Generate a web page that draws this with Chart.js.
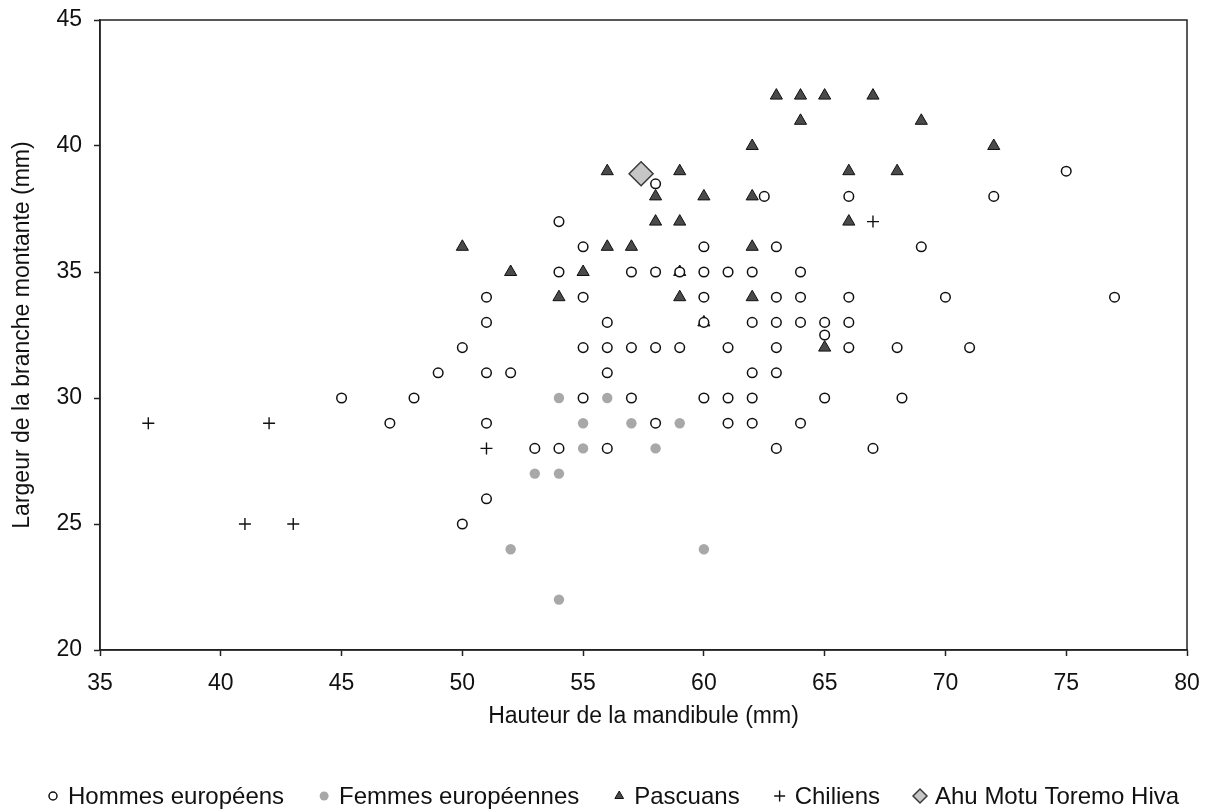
<!DOCTYPE html>
<html lang="fr">
<head>
<meta charset="UTF-8">
<title>Mandibule</title>
<script src="https://cdn.jsdelivr.net/npm/chart.js"></script>
<style>
    body { margin: 0; background: #fff; }
    canvas { display: block; }
</style>
</head>
<body>
<canvas id="graphCanvas" width="1208" height="809"></canvas>
<script>
    // [hauteur, largeur] in mm
    const hommes = [
        [75, 39], [58, 38.5], [62.5, 38], [66, 38], [72, 38], [54, 37],
        [55, 36], [60, 36], [63, 36], [69, 36],
        [54, 35], [57, 35], [58, 35], [59, 35], [60, 35], [61, 35], [62, 35], [64, 35],
        [51, 34], [55, 34], [60, 34], [63, 34], [64, 34], [66, 34], [70, 34], [77, 34],
        [51, 33], [56, 33], [60, 33], [62, 33], [63, 33], [64, 33], [65, 33], [66, 33],
        [65, 32.5],
        [50, 32], [55, 32], [56, 32], [57, 32], [58, 32], [59, 32], [61, 32], [63, 32], [66, 32], [68, 32], [71, 32],
        [49, 31], [51, 31], [52, 31], [56, 31], [62, 31], [63, 31],
        [45, 30], [48, 30], [55, 30], [57, 30], [60, 30], [61, 30], [62, 30], [65, 30], [68.2, 30],
        [47, 29], [51, 29], [58, 29], [61, 29], [62, 29], [64, 29],
        [53, 28], [54, 28], [56, 28], [63, 28], [67, 28],
        [51, 26], [50, 25]
    ];
    const femmes = [
        [54, 30], [56, 30], [55, 29], [57, 29], [59, 29], [55, 28],
        [58, 28], [53, 27], [54, 27], [52, 24], [60, 24], [54, 22]
    ];
    const pascuans = [
        [63, 42], [64, 42], [65, 42], [67, 42], [64, 41], [69, 41], [62, 40], [72, 40],
        [56, 39], [59, 39], [66, 39], [68, 39], [58, 38], [60, 38], [62, 38],
        [58, 37], [59, 37], [66, 37], [50, 36], [56, 36], [57, 36], [62, 36],
        [52, 35], [55, 35], [59, 35], [54, 34], [59, 34], [62, 34], [60, 33], [65, 32]
    ];
    const chiliens = [[37, 29], [42, 29], [41, 25], [43, 25], [51, 28], [67, 37]];
    const ahuMotu = [[57.4, 38.9]];

    const xTickValues = [35, 40, 45, 50, 55, 60, 65, 70, 75, 80];
    const yTickValues = [20, 25, 30, 35, 40, 45];

    const FONT = '"Liberation Sans", Arial, sans-serif';
    Chart.defaults.font.family = FONT;
    Chart.defaults.color = '#111';

    const toPoints = arr => arr.map(p => ({ x: p[0], y: p[1] }));

    // tick labels may overhang the plot edges, like the original
    const noEdgePadding = s => {
        s.paddingTop = 0; s.paddingBottom = 0;
        s.paddingLeft = 0; s.paddingRight = 0;
    };

    // box around the plot area
    const framePlugin = {
        id: 'frame',
        afterDraw(chart) {
            const { ctx, chartArea: a } = chart;
            ctx.save();
            ctx.strokeStyle = '#222';
            ctx.lineWidth = 1.5;
            ctx.strokeRect(a.left, a.top, a.right - a.left, a.bottom - a.top);
            ctx.restore();
        }
    };

    // one-line legend under the axis title
    const legendPlugin = {
        id: 'bottomLegend',
        afterDraw(chart) {
            const ctx = chart.ctx;
            ctx.save();
            ctx.font = '24px ' + FONT;
            ctx.textBaseline = 'alphabetic';
            let x = 53;
            chart.data.datasets.forEach(ds => {
                ctx.fillStyle = ds.backgroundColor;
                ctx.strokeStyle = ds.borderColor;
                ctx.lineWidth = ds.borderWidth;
                Chart.helpers.drawPoint(ctx, {
                    pointStyle: ds.pointStyle, radius: ds.legendRadius,
                    rotation: 0, borderWidth: ds.borderWidth
                }, x, 796);
                ctx.fillStyle = '#111';
                ctx.fillText(ds.label, x + 15, 804);
                x += 15 + ctx.measureText(ds.label).width + 40;
            });
            ctx.restore();
        }
    };

    const ctx = document.getElementById('graphCanvas').getContext('2d');
    new Chart(ctx, {
        type: 'scatter',
        data: {
            datasets: [
                {
                    label: 'Hommes européens', data: toPoints(hommes),
                    pointStyle: 'circle', pointRadius: 4.8, legendRadius: 4,
                    backgroundColor: '#fff', borderColor: '#111', borderWidth: 1.5
                },
                {
                    label: 'Femmes européennes', data: toPoints(femmes),
                    pointStyle: 'circle', pointRadius: 5.2, legendRadius: 4.5,
                    backgroundColor: '#a8a8a8', borderColor: '#a8a8a8', borderWidth: 0
                },
                {
                    label: 'Pascuans', data: toPoints(pascuans),
                    pointStyle: 'triangle', pointRadius: 7, legendRadius: 5,
                    backgroundColor: '#4a4a4a', borderColor: '#111', borderWidth: 1
                },
                {
                    label: 'Chiliens', data: toPoints(chiliens),
                    pointStyle: 'cross', pointRadius: 6, legendRadius: 5.5,
                    backgroundColor: '#111', borderColor: '#111', borderWidth: 1.4
                },
                {
                    label: 'Ahu Motu Toremo Hiva', data: toPoints(ahuMotu),
                    pointStyle: 'rectRot', pointRadius: 12, legendRadius: 7,
                    backgroundColor: '#c6c6c6', borderColor: '#3a3a3a', borderWidth: 1.5
                }
            ]
        },
        options: {
            responsive: false,
            animation: false,
            events: [],
            layout: { padding: { top: 20, right: 21, bottom: 0, left: 0 } },
            plugins: { legend: { display: false }, tooltip: { enabled: false } },
            scales: {
                x: {
                    type: 'linear', position: 'bottom', min: 35, max: 80,
                    afterBuildTicks: s => { s.ticks = xTickValues.map(v => ({ value: v })); },
                    afterFit: s => { s.height = 159; noEdgePadding(s); },
                    grid: { drawOnChartArea: false, drawTicks: true, tickLength: 6, tickColor: '#222', tickWidth: 1.5 },
                    border: { color: '#222', width: 1.5 },
                    ticks: { font: { size: 23 }, padding: 14, color: '#111', maxRotation: 0 },
                    title: {
                        display: true, text: 'Hauteur de la mandibule (mm)',
                        font: { size: 23 }, color: '#111', padding: { top: 0, bottom: 79 }
                    }
                },
                y: {
                    type: 'linear', min: 20, max: 45,
                    afterBuildTicks: s => { s.ticks = yTickValues.map(v => ({ value: v })); },
                    afterFit: s => { s.width = 100; noEdgePadding(s); },
                    grid: { drawOnChartArea: false, drawTicks: true, tickLength: 6, tickColor: '#222', tickWidth: 1.5 },
                    border: { color: '#222', width: 1.5 },
                    ticks: { font: { size: 23 }, padding: 12, color: '#111' },
                    title: {
                        display: true, text: 'Largeur de la branche montante (mm)',
                        font: { size: 23 }, color: '#111', padding: { top: 9, bottom: 0 }
                    }
                }
            }
        },
        plugins: [framePlugin, legendPlugin]
    });
</script>
</body>
</html>
